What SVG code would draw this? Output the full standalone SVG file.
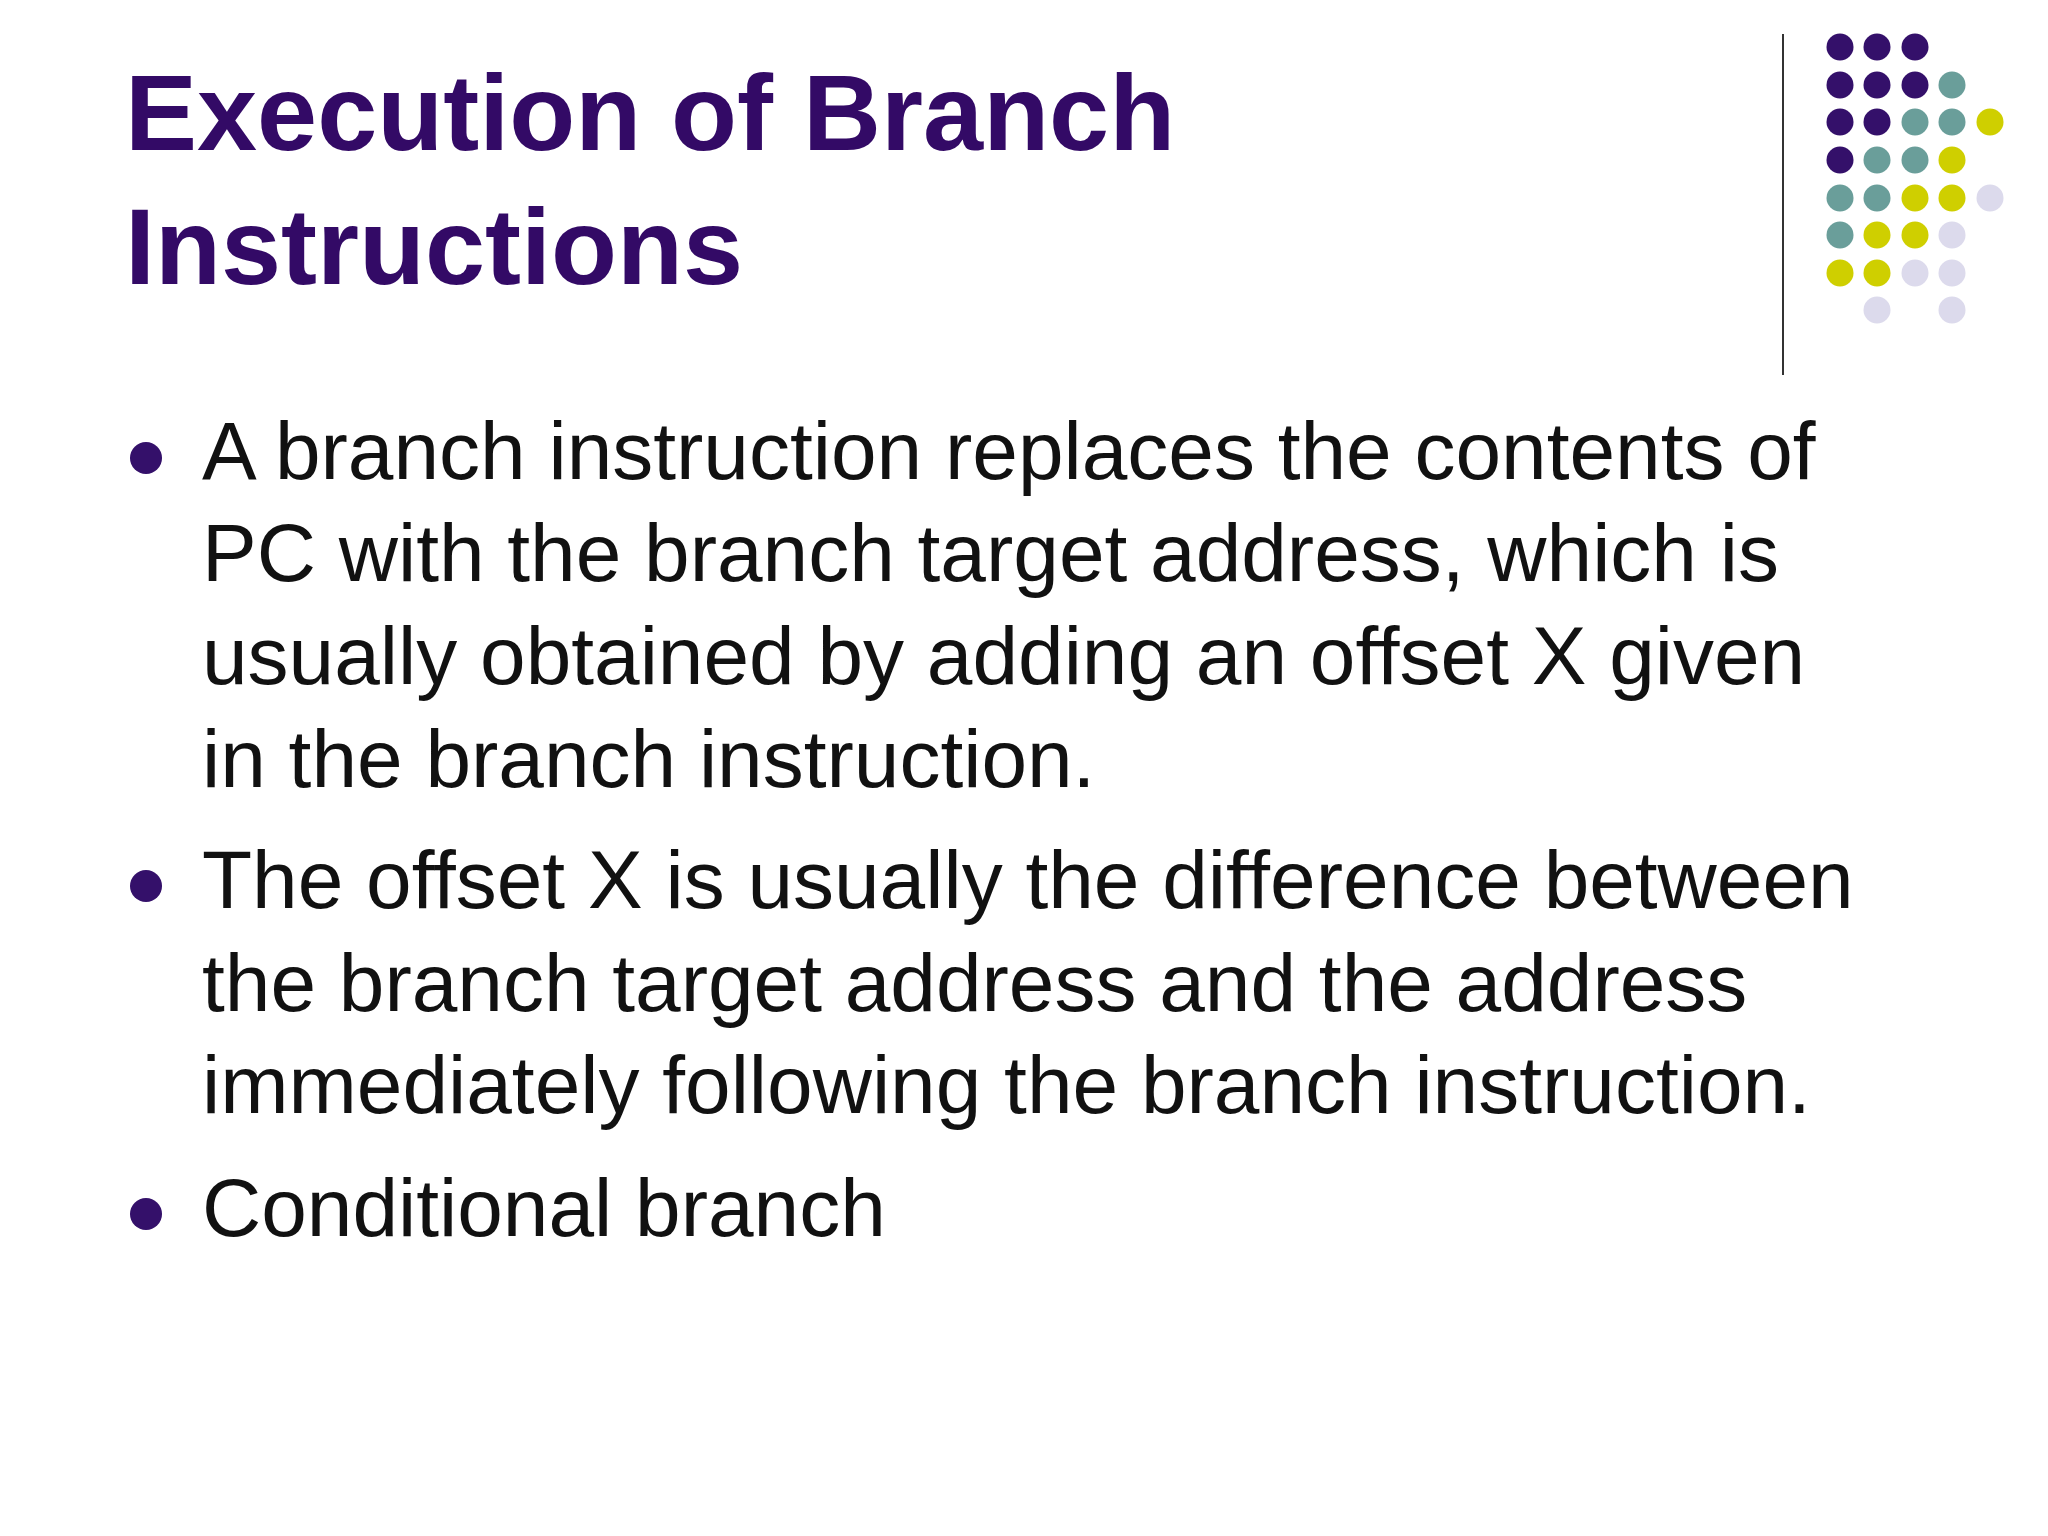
<svg xmlns="http://www.w3.org/2000/svg" width="2048" height="1536" viewBox="0 0 2048 1536">
<style>
.t{font-family:"Liberation Sans",Arial,sans-serif;font-weight:bold;font-size:108px;fill:#330a66}
.b{font-family:"Liberation Sans",Arial,sans-serif;font-size:82px;fill:#111}
.p{fill:#34106a}.g{fill:#6a9e9a}.y{fill:#cfcf00}.l{fill:#dcdaec}
</style>
<rect width="2048" height="1536" fill="#fff"/>
<g id="title">
<text class="t" x="125" y="150">Execution of Branch</text>
<text class="t" x="125" y="284">Instructions</text>
</g>
<line x1="1783" y1="34" x2="1783" y2="375" stroke="#333" stroke-width="2"/>
<g id="dots">
<circle class="p" cx="1840" cy="47" r="13.5"/><circle class="p" cx="1877" cy="47" r="13.5"/><circle class="p" cx="1915" cy="47" r="13.5"/>
<circle class="p" cx="1840" cy="85" r="13.5"/><circle class="p" cx="1877" cy="85" r="13.5"/><circle class="p" cx="1915" cy="85" r="13.5"/><circle class="g" cx="1952" cy="85" r="13.5"/>
<circle class="p" cx="1840" cy="122" r="13.5"/><circle class="p" cx="1877" cy="122" r="13.5"/><circle class="g" cx="1915" cy="122" r="13.5"/><circle class="g" cx="1952" cy="122" r="13.5"/><circle class="y" cx="1990" cy="122" r="13.5"/>
<circle class="p" cx="1840" cy="160" r="13.5"/><circle class="g" cx="1877" cy="160" r="13.5"/><circle class="g" cx="1915" cy="160" r="13.5"/><circle class="y" cx="1952" cy="160" r="13.5"/>
<circle class="g" cx="1840" cy="198" r="13.5"/><circle class="g" cx="1877" cy="198" r="13.5"/><circle class="y" cx="1915" cy="198" r="13.5"/><circle class="y" cx="1952" cy="198" r="13.5"/><circle class="l" cx="1990" cy="198" r="13.5"/>
<circle class="g" cx="1840" cy="235" r="13.5"/><circle class="y" cx="1877" cy="235" r="13.5"/><circle class="y" cx="1915" cy="235" r="13.5"/><circle class="l" cx="1952" cy="235" r="13.5"/>
<circle class="y" cx="1840" cy="273" r="13.5"/><circle class="y" cx="1877" cy="273" r="13.5"/><circle class="l" cx="1915" cy="273" r="13.5"/><circle class="l" cx="1952" cy="273" r="13.5"/>
<circle class="l" cx="1877" cy="310" r="13.5"/><circle class="l" cx="1952" cy="310" r="13.5"/>
</g>
<g id="bullets">
<circle class="p" cx="146" cy="458" r="16"/>
<circle class="p" cx="146" cy="886" r="16"/>
<circle class="p" cx="146" cy="1214" r="16"/>
<text class="b" x="202" y="479">A branch instruction replaces the contents of</text>
<text class="b" x="202" y="581">PC with the branch target address, which is</text>
<text class="b" x="202" y="684">usually obtained by adding an offset X given</text>
<text class="b" x="202" y="787">in the branch instruction.</text>
<text class="b" x="202" y="908">The offset X is usually the difference between</text>
<text class="b" x="202" y="1011">the branch target address and the address</text>
<text class="b" x="202" y="1113">immediately following the branch instruction.</text>
<text class="b" x="202" y="1236">Conditional branch</text>
</g>
</svg>
